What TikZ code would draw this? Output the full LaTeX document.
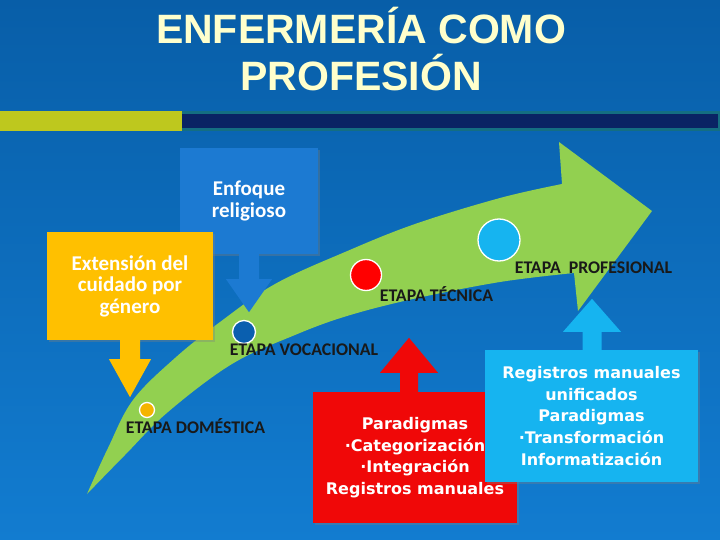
\documentclass[tikz,border=0pt]{standalone}
\usepackage{fontspec}
\setmainfont{Carlito}
\newfontfamily\titlefont{Liberation Sans}
\newfontfamily\boxfont{DejaVu Sans}
\usetikzlibrary{calc,shadows}
\definecolor{bgtop}{RGB}{8,94,168}
\definecolor{bgbottom}{RGB}{18,124,208}
\definecolor{titleyellow}{RGB}{255,255,204}
\definecolor{barlime}{RGB}{190,200,30}
\definecolor{barteal}{RGB}{20,110,130}
\definecolor{barnavy}{RGB}{10,35,100}
\definecolor{arrowgreen}{RGB}{146,208,80}
\definecolor{faithblue}{RGB}{28,122,210}
\definecolor{genderyellow}{RGB}{255,192,0}
\definecolor{techred}{RGB}{240,8,8}
\definecolor{profcyan}{RGB}{22,180,240}
\definecolor{dotyellow}{RGB}{245,180,0}
\definecolor{dotblue}{RGB}{10,95,175}

\begin{document}
\begin{tikzpicture}[x=1pt, y=-1pt,
	stage/.style={font=\bfseries\fontsize{17.8}{20}\selectfont, text=black!90, anchor=base, inner sep=0pt},
	dot/.style={circle, draw=white, line width=1.3pt, inner sep=0pt},
	callout/.style={text=white, align=center, inner sep=0pt, drop shadow={opacity=0.35, shadow xshift=2pt, shadow yshift=-2pt}},
	calibribox/.style={callout, font=\bfseries\fontsize{21}{21.5}\selectfont},
	verdanabox/.style={callout, font=\boxfont\bfseries\fontsize{16}{21.7}\selectfont}]
	\useasboundingbox (0,0) rectangle (720,540);
	\shade[top color=bgtop, bottom color=bgbottom] (0,0) rectangle (720,540);
	\fill[barlime] (0,111) rectangle (182,131);
	\fill[barteal] (182,111) rectangle (720,131);
	\fill[barnavy] (182,114) rectangle (718,128);
	\node[font=\titlefont\bfseries\fontsize{41}{44}\selectfont, text=titleyellow, anchor=base, inner sep=0pt] (title1) at (361,44) {ENFERMERÍA COMO};
	\node[font=\titlefont\bfseries\fontsize{41}{44}\selectfont, text=titleyellow, anchor=base, inner sep=0pt] (title2) at (361,91) {PROFESIÓN};
	\fill[arrowgreen] plot[smooth, tension=0.6] coordinates {(87,494) (108,448) (133,400) (175,358) (220,322) (275,284) (345,252) (415,224) (500,198) (562,184)}
		-- (559,142) -- (652,211) -- (578,311)
		-- plot[smooth, tension=0.6] coordinates {(574,273) (500,282) (413,299) (347,316) (295,335) (232,364) (168,412) (125,455) (87,494)} -- cycle;
	\node[dot, fill=dotyellow, minimum size=15] (domdot) at (147,410) {};
	\node[dot, fill=dotblue, minimum size=23] (vocdot) at (244,332) {};
	\node[dot, fill=red, minimum size=31] (tecdot) at (366,275) {};
	\node[dot, fill=profcyan, minimum size=42] (profdot) at (499,240) {};
	\node[stage] (domestica) at (195.5,433) {ETAPA DOMÉSTICA};
	\node[stage] (vocacional) at (304,355) {ETAPA VOCACIONAL};
	\node[stage] (tecnica) at (436.5,301) {ETAPA TÉCNICA};
	\node[stage] (profesional) at (593.5,273) {ETAPA\ \ PROFESIONAL};
	\node[calibribox, fill=faithblue, minimum width=138, minimum height=106] (religioso) at (249,201) {Enfoque\\religioso};
	\fill[faithblue] ([xshift=-10pt]religioso.south) -- ++(0,25) -- ++(-13,0) -- ++(23,33) -- ++(23,-33) -- ++(-13,0) -- ++(0,-25) -- cycle;
	\node[calibribox, fill=genderyellow, minimum width=166, minimum height=108] (genero) at (130,286) {Extensión del\\cuidado por\\género};
	\fill[genderyellow] ([xshift=-10pt]genero.south) -- ++(0,19) -- ++(-11,0) -- ++(21,38) -- ++(21,-38) -- ++(-11,0) -- ++(0,-19) -- cycle;
	\node[verdanabox, fill=techred, minimum width=204, minimum height=131] (tecbox) at (415,457.5) {Paradigmas\\·Categorización\\·Integración\\Registros manuales};
	\fill[techred] ([xshift=-15pt]tecbox.north) -- ++(0,-19) -- ++(-20,0) -- ++(29,-35) -- ++(29,35) -- ++(-20,0) -- ++(0,19) -- cycle;
	\node[verdanabox, fill=profcyan, minimum width=213, minimum height=132] (profbox) at (591.5,416) {Registros manuales\\unificados\\Paradigmas\\·Transformación\\Informatización};
	\fill[profcyan] ([xshift=-9pt]profbox.north) -- ++(0,-18) -- ++(-19.5,0) -- ++(29,-33) -- ++(29,33) -- ++(-19.5,0) -- ++(0,18) -- cycle;
\end{tikzpicture}
\end{document}
